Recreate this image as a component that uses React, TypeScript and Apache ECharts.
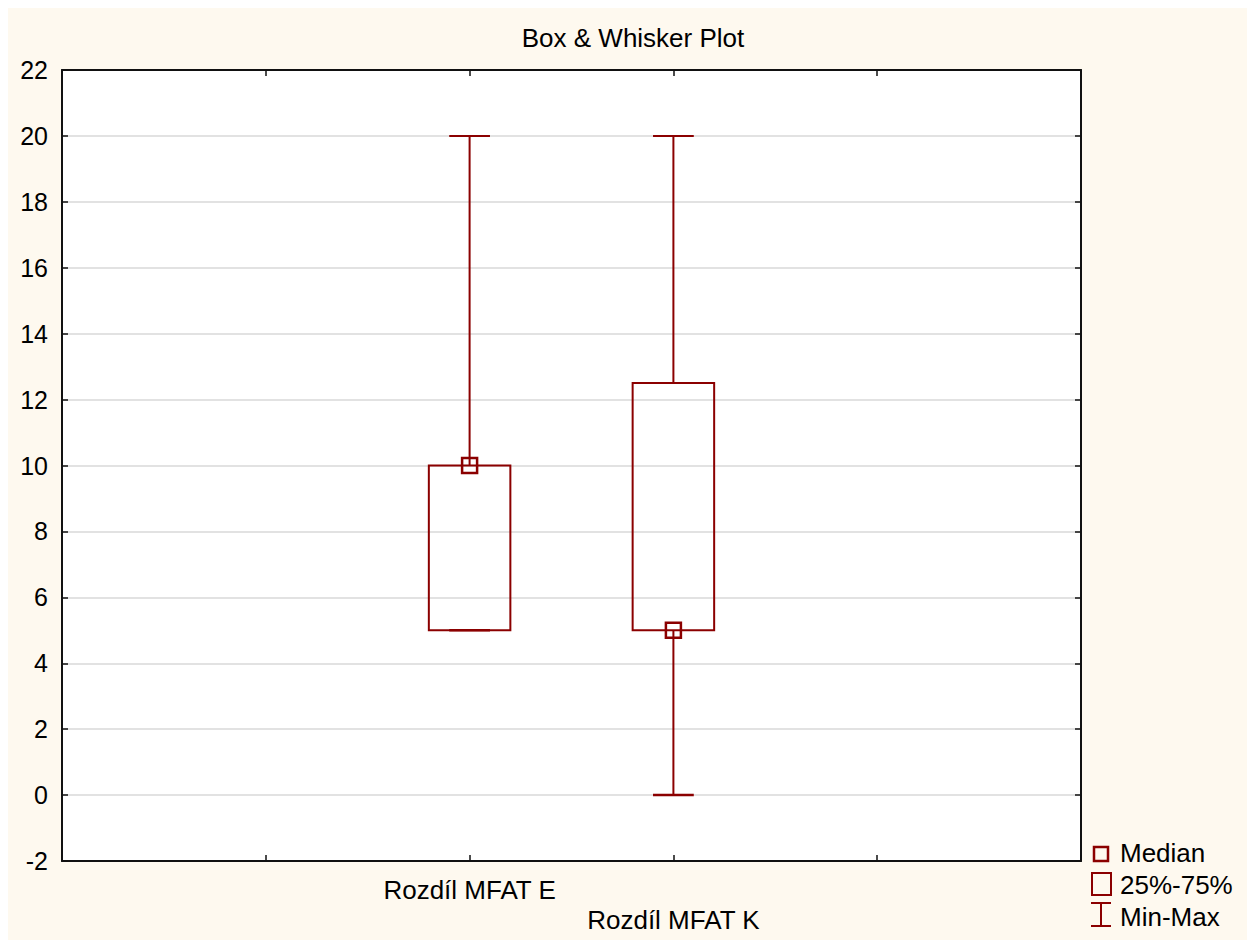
import React, { useEffect, useRef } from "react";
import * as echarts from "echarts";

const categories = ["Rozdíl MFAT E", "Rozdíl MFAT K"];
const positions = [2, 3];
const mins = [5, 0];
const q1s = [5, 5];
const medians = [10, 5];
const q3s = [10, 12.5];
const maxs = [20, 20];
const yTicks = { min: -2, max: 22, interval: 2 };
const xRange = { min: 0, max: 5, interval: 1 };

const BOX_COLOR = "#8b0000";
const FONT = "'Liberation Sans', Arial, Helvetica, sans-serif";

export default function App() {
  const ref = useRef<HTMLDivElement>(null);

  useEffect(() => {
    document.documentElement.style.overflow = "hidden";
    const chart = echarts.init(ref.current!, null, { renderer: "svg" });

    const seriesData = positions.map((p, i) => [p, mins[i], q1s[i], medians[i], q3s[i], maxs[i]]);

    const renderItem = (params: any, api: any) => {
      const x = api.value(0);
      const pMin = api.coord([x, api.value(1)]);
      const pQ1 = api.coord([x, api.value(2)]);
      const pMed = api.coord([x, api.value(3)]);
      const pQ3 = api.coord([x, api.value(4)]);
      const pMax = api.coord([x, api.value(5)]);
      const unit = api.size([1, 0])[0];
      const cx = pMed[0];
      const bw = unit * 0.4;
      const cw = unit * 0.2;
      const ms = 15;
      const lineStyle = { stroke: BOX_COLOR, lineWidth: 2, fill: null };
      return {
        type: "group",
        children: [
          { type: "line", shape: { x1: cx, y1: pQ3[1], x2: cx, y2: pMax[1] }, style: lineStyle },
          { type: "line", shape: { x1: cx, y1: pQ1[1], x2: cx, y2: pMin[1] }, style: lineStyle },
          {
            type: "rect",
            shape: { x: cx - bw / 2, y: pQ3[1], width: bw, height: pQ1[1] - pQ3[1] },
            style: { stroke: BOX_COLOR, lineWidth: 2, fill: "none" },
          },
          { type: "line", shape: { x1: cx - cw / 2, y1: pMax[1], x2: cx + cw / 2, y2: pMax[1] }, style: lineStyle },
          { type: "line", shape: { x1: cx - cw / 2, y1: pMin[1], x2: cx + cw / 2, y2: pMin[1] }, style: { stroke: BOX_COLOR, lineWidth: 2.5 } },
          {
            type: "rect",
            shape: { x: cx - ms / 2, y: pMed[1] - ms / 2, width: ms, height: ms },
            style: { stroke: BOX_COLOR, lineWidth: 2.5, fill: "none" },
          },
        ],
      };
    };

    const axisLine = { show: true, onZero: false, lineStyle: { color: "#111", width: 2 } };
    const axisTick = { show: true, inside: true, length: 6, lineStyle: { color: "#111", width: 1.5 } };

    const option: any = {
      animation: false,
      backgroundColor: "#fef9ef",
      grid: {
        left: 54,
        top: 62,
        width: 1019,
        height: 791,
        show: true,
        backgroundColor: "#ffffff",
        borderWidth: 0,
        containLabel: false,
      },
      graphic: [
        {
          type: "text",
          x: 625,
          y: 30,
          style: {
            text: "Box & Whisker Plot",
            font: `26px ${FONT}`,
            fill: "#000",
            textAlign: "center",
            textVerticalAlign: "middle",
          },
        },
        // legend: Median
        {
          type: "rect",
          shape: { x: 1093 - 7, y: 846 - 7, width: 14, height: 14 },
          style: { stroke: BOX_COLOR, lineWidth: 2.5, fill: "none" },
        },
        {
          type: "text",
          x: 1112,
          y: 845,
          style: { text: "Median", font: `26px ${FONT}`, fill: "#000", textVerticalAlign: "middle" },
        },
        // legend: box
        {
          type: "rect",
          shape: { x: 1084, y: 865, width: 19, height: 22 },
          style: { stroke: BOX_COLOR, lineWidth: 2, fill: "none" },
        },
        {
          type: "text",
          x: 1112,
          y: 877,
          style: { text: "25%-75%", font: `26px ${FONT}`, fill: "#000", textVerticalAlign: "middle" },
        },
        // legend: min-max
        {
          type: "line",
          shape: { x1: 1093, y1: 895, x2: 1093, y2: 918 },
          style: { stroke: BOX_COLOR, lineWidth: 2 },
        },
        {
          type: "line",
          shape: { x1: 1083, y1: 895, x2: 1103, y2: 895 },
          style: { stroke: BOX_COLOR, lineWidth: 2 },
        },
        {
          type: "line",
          shape: { x1: 1083, y1: 918, x2: 1103, y2: 918 },
          style: { stroke: BOX_COLOR, lineWidth: 2 },
        },
        {
          type: "text",
          x: 1112,
          y: 909,
          style: { text: "Min-Max", font: `26px ${FONT}`, fill: "#000", textVerticalAlign: "middle" },
        },
      ],
      xAxis: [
        {
          type: "value",
          position: "bottom",
          min: xRange.min,
          max: xRange.max,
          interval: xRange.interval,
          axisLine,
          axisTick,
          splitLine: { show: false },
          axisLabel: {
            show: true,
            margin: 14,
            fontSize: 26,
            lineHeight: 30,
            color: "#000",
            fontFamily: FONT,
            formatter: (v: number) => {
              const idx = positions.indexOf(v);
              if (idx < 0) return "";
              return idx % 2 === 1 ? "\n" + categories[idx] : categories[idx];
            },
          },
        },
        {
          type: "value",
          position: "top",
          min: xRange.min,
          max: xRange.max,
          interval: xRange.interval,
          axisLine,
          axisTick,
          splitLine: { show: false },
          axisLabel: { show: false },
        },
      ],
      yAxis: [
        {
          type: "value",
          position: "left",
          min: yTicks.min,
          max: yTicks.max,
          interval: yTicks.interval,
          axisLine,
          axisTick,
          splitLine: { show: true, lineStyle: { color: "#d9d9d9", width: 1.5 } },
          axisLabel: { show: true, margin: 14, fontSize: 25, color: "#000", fontFamily: FONT },
        },
        {
          type: "value",
          position: "right",
          min: yTicks.min,
          max: yTicks.max,
          interval: yTicks.interval,
          axisLine,
          axisTick,
          splitLine: { show: false },
          axisLabel: { show: false },
        },
      ],
      series: [
        {
          type: "custom",
          xAxisIndex: 0,
          yAxisIndex: 0,
          renderItem,
          encode: { x: 0, y: [1, 2, 3, 4, 5] },
          data: seriesData,
          z: 10,
        },
      ],
    };

    chart.setOption(option);
    return () => {
      chart.dispose();
    };
  }, []);

  return <div ref={ref} style={{ width: 1247, height: 932 }} />;
}
